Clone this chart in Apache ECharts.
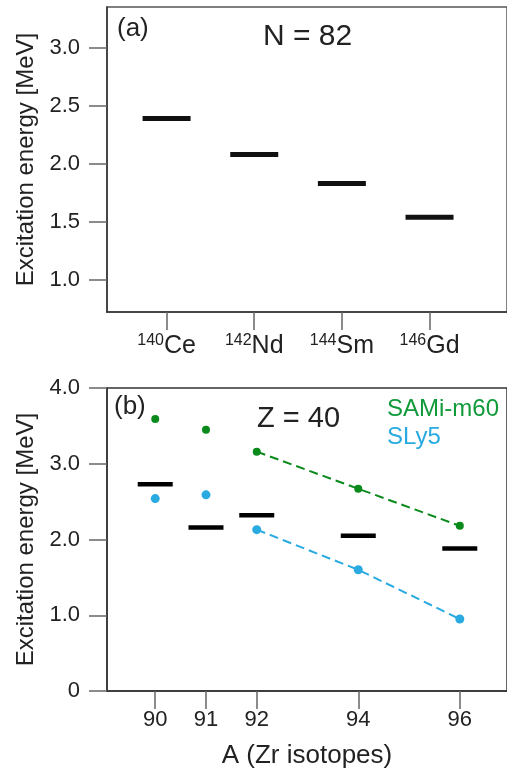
<!DOCTYPE html>
<html>
<head>
<meta charset="utf-8">
<script src="https://cdn.jsdelivr.net/npm/echarts@6/dist/echarts.min.js"></script>
<style>html,body{margin:0;padding:0;background:#fff}#chart{width:507px;height:770px}</style>
</head>
<body>
<div id="chart"></div>
<script>
// panel (a): N = 82 isotones
const nucleiMass = ["140", "142", "144", "146"];
const nucleiElem = ["Ce", "Nd", "Sm", "Gd"];
const n82Energy = [2.39, 2.08, 1.83, 1.54];
const yTicksA = [1.0, 1.5, 2.0, 2.5, 3.0];

// panel (b): Z = 40 (Zr isotopes)
const zrMass = [90, 91, 92, 94, 96];
const zrExpt = [2.73, 2.16, 2.32, 2.05, 1.88];
const zrSami = [3.59, 3.45, 3.16, 2.67, 2.18];
const zrSly5 = [2.54, 2.59, 2.13, 1.60, 0.95];

const FONT = "Liberation Sans, Arial, sans-serif";
const GREEN = "#0b8a1c", BLUE = "#29abe2";

const chart = echarts.init(document.getElementById("chart"));
const pairs = (xs, ys) => xs.map((x, i) => [x, ys[i]]);
const dashedFrom92 = (ys) => pairs(zrMass, ys).filter(p => p[0] >= 92);

const tickStyle = { show: true, inside: false, length: 18, lineStyle: { color: "#666", width: 1.5 } };
const lineStyle = { show: true, onZero: false, lineStyle: { color: "#333", width: 1.5 } };
const labelStyle = { color: "#222", fontSize: 22, fontFamily: FONT };

chart.setOption({
  animation: false,
  textStyle: { fontFamily: FONT },
  grid: [
    { left: 107, top: 7, right: -3, height: 305, show: true, borderColor: "#555", borderWidth: 1.5 },
    { left: 107, top: 388, right: -3, height: 304, show: true, borderColor: "#333", borderWidth: 1.5 }
  ],
  xAxis: [
    { gridIndex: 0, type: "value", min: -0.68, max: 3.884,
      axisLine: lineStyle, splitLine: { show: false },
      axisTick: Object.assign({ customValues: [0, 1, 2, 3] }, tickStyle),
      axisLabel: { customValues: [0, 1, 2, 3], margin: 21,
        formatter: v => `{s|${nucleiMass[v]}}{e|${nucleiElem[v]}}`,
        rich: { s: { fontSize: 16, color: "#222", fontFamily: FONT, verticalAlign: "top", lineHeight: 26 },
                e: { fontSize: 25, color: "#222", fontFamily: FONT, lineHeight: 26 } } } },
    { gridIndex: 1, type: "value", min: 89.05, max: 96.93,
      axisLine: lineStyle, splitLine: { show: false },
      axisTick: Object.assign({ customValues: zrMass }, tickStyle),
      axisLabel: Object.assign({ customValues: zrMass, margin: 18 }, labelStyle),
      name: "A (Zr isotopes)", nameLocation: "middle", nameGap: 52,
      nameTextStyle: { fontSize: 26, color: "#222", fontFamily: FONT } }
  ],
  yAxis: [
    { gridIndex: 0, type: "value", min: 0.725, max: 3.35,
      axisLine: lineStyle, splitLine: { show: false },
      axisTick: Object.assign({ customValues: yTicksA }, tickStyle),
      axisLabel: Object.assign({ customValues: yTicksA, margin: 27, formatter: v => v.toFixed(1) }, labelStyle),
      name: "Excitation energy [MeV]", nameLocation: "middle", nameGap: 68,
      nameTextStyle: { fontSize: 24, color: "#222", fontFamily: FONT } },
    { gridIndex: 1, type: "value", min: 0, max: 4, interval: 1,
      axisLine: lineStyle, splitLine: { show: false },
      axisTick: tickStyle,
      axisLabel: Object.assign({ margin: 27, formatter: v => v === 0 ? "0" : v.toFixed(1) }, labelStyle),
      name: "Excitation energy [MeV]", nameLocation: "middle", nameGap: 68,
      nameTextStyle: { fontSize: 24, color: "#222", fontFamily: FONT } }
  ],
  series: [
    { type: "scatter", xAxisIndex: 0, yAxisIndex: 0, symbol: "rect", symbolSize: [48, 5],
      itemStyle: { color: "#111", opacity: 1 }, data: n82Energy.map((v, i) => [i, v]) },
    { type: "scatter", xAxisIndex: 1, yAxisIndex: 1, symbol: "rect", symbolSize: [35, 4.5], z: 3,
      itemStyle: { color: "#000", opacity: 1 }, data: pairs(zrMass, zrExpt) },
    { type: "line", xAxisIndex: 1, yAxisIndex: 1, showSymbol: false, z: 2,
      lineStyle: { color: GREEN, width: 2, type: [9, 5] }, data: dashedFrom92(zrSami) },
    { type: "line", xAxisIndex: 1, yAxisIndex: 1, showSymbol: false, z: 2,
      lineStyle: { color: BLUE, width: 2, type: [9, 5] }, data: dashedFrom92(zrSly5) },
    { type: "scatter", xAxisIndex: 1, yAxisIndex: 1, symbolSize: 8, z: 4,
      itemStyle: { color: GREEN, opacity: 1 }, data: pairs(zrMass, zrSami) },
    { type: "scatter", xAxisIndex: 1, yAxisIndex: 1, symbolSize: 9, z: 4,
      itemStyle: { color: BLUE, opacity: 1 }, data: pairs(zrMass, zrSly5) }
  ],
  graphic: [
    { type: "text", left: 117, top: 16, style: { text: "(a)", fontSize: 26, fill: "#222", fontFamily: FONT } },
    { type: "text", left: 263, top: 22, style: { text: "N = 82", fontSize: 30, fill: "#222", fontFamily: FONT } },
    { type: "text", left: 114, top: 394, style: { text: "(b)", fontSize: 26, fill: "#222", fontFamily: FONT } },
    { type: "text", left: 257, top: 404, style: { text: "Z = 40", fontSize: 29, fill: "#222", fontFamily: FONT } },
    { type: "text", left: 387, top: 397, style: { text: "SAMi-m60", fontSize: 24, fill: "#109a3a", fontFamily: FONT } },
    { type: "text", left: 387, top: 425, style: { text: "SLy5", fontSize: 24, fill: BLUE, fontFamily: FONT } }
  ]
});
window.addEventListener("resize", () => chart.resize());
</script>
</body>
</html>
